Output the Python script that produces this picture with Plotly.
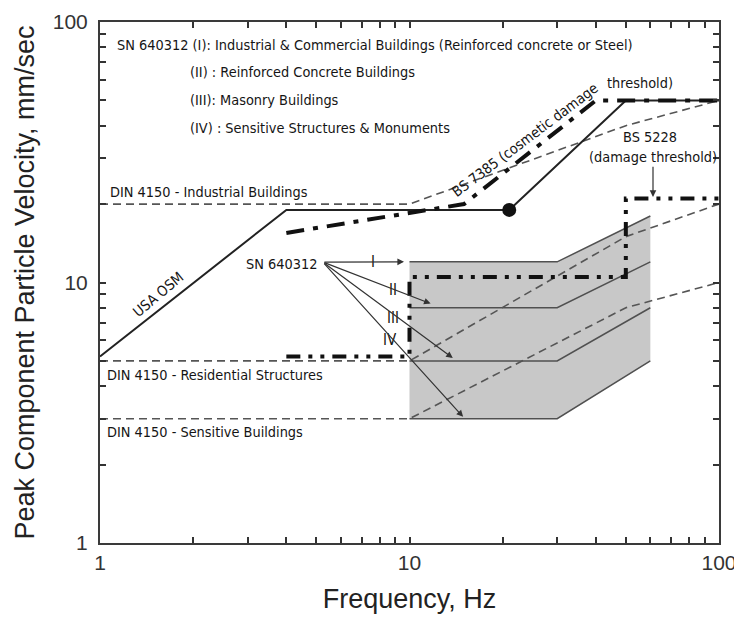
import math
import plotly.graph_objects as go

# ---------------- data ----------------
freq_din = [1, 10, 50, 100]
din_industrial = [20, 20, 40, 50]
din_residential = [5, 5, 15, 20]
din_sensitive = [3, 3, 8, 10]

osm_freq = [1, 4, 21, 50, 100]
osm_vel = [5.2, 19, 19, 50, 50]
osm_dot_freq = [21]
osm_dot_vel = [19]

bs7385_freq = [4, 15, 40, 100]
bs7385_vel = [15.5, 20, 50, 50]

bs5228_freq = [4, 10, 10, 50, 50, 100]
bs5228_vel = [5.2, 5.2, 10.5, 10.5, 21, 21]

sn_freq = [10, 30, 60]
sn_I = [12, 12, 18]
sn_II = [8, 8, 12]
sn_III = [5, 5, 8]
sn_IV = [3, 3, 5]

tick_values = [1, 2, 3, 4, 5, 6, 7, 8, 9, 10, 20, 30, 40, 50, 60, 70, 80, 90, 100]
tick_labels = ["1", "", "", "", "", "", "", "", "", "10",
               "", "", "", "", "", "", "", "", "100"]

NARROW = "Liberation Sans Narrow, Arial Narrow, DejaVu Sans Condensed, sans-serif"
SANS = "Liberation Sans, Arial, sans-serif"
L = math.log10

fig = go.Figure()

# shaded SN 640312 region
fig.add_trace(go.Scatter(
    x=sn_freq + sn_freq[::-1], y=sn_I + sn_IV[::-1],
    fill="toself", fillcolor="#c8c8c8", line=dict(width=0),
    mode="lines", hoverinfo="skip", showlegend=False))
for v in (sn_I, sn_II, sn_III, sn_IV):
    fig.add_trace(go.Scatter(x=sn_freq, y=v, mode="lines",
                             line=dict(color="#505050", width=1.5),
                             showlegend=False))

# DIN 4150 dashed
for v in (din_industrial, din_residential, din_sensitive):
    fig.add_trace(go.Scatter(x=freq_din, y=v, mode="lines",
                             line=dict(color="#555555", width=1.6, dash="8px,5px"),
                             showlegend=False))

# USA OSM
fig.add_trace(go.Scatter(x=osm_freq, y=osm_vel, mode="lines",
                         line=dict(color="#222222", width=2), showlegend=False))
fig.add_trace(go.Scatter(x=osm_dot_freq, y=osm_dot_vel, mode="markers",
                         marker=dict(color="#111111", size=14), showlegend=False))

# BS 7385
fig.add_trace(go.Scatter(x=bs7385_freq, y=bs7385_vel, mode="lines",
                         line=dict(color="#111111", width=4, dash="18px,9px,5px,9px"),
                         showlegend=False))
# BS 5228
fig.add_trace(go.Scatter(x=bs5228_freq, y=bs5228_vel, mode="lines",
                         line=dict(color="#111111", width=4,
                                   dash="14px,8px,4px,8px,4px,8px"),
                         showlegend=False))

ann = []


def txt(x, y, s, size=14.4, xanchor="center", angle=0, font=NARROW):
    ann.append(dict(x=L(x), y=L(y), xref="x", yref="y", text=s, showarrow=False,
                    xanchor=xanchor, yanchor="middle", textangle=angle,
                    font=dict(family=font, size=size, color="#151515")))


# header text block
txt(1.12, 81.6, "SN 640312 (I): Industrial &amp; Commercial Buildings (Reinforced concrete or Steel)", xanchor="left")
txt(1.93, 64.3, "(II) : Reinforced Concrete Buildings", xanchor="left")
txt(1.93, 50.2, "(III): Masonry Buildings", xanchor="left")
txt(1.93, 39.2, "(IV) : Sensitive Structures &amp; Monuments", xanchor="left")

txt(1.06, 22.3, "DIN 4150 - Industrial Buildings", xanchor="left")
txt(1.04, 4.42, "DIN 4150 - Residential Structures", xanchor="left")
txt(1.04, 2.67, "DIN 4150 - Sensitive Buildings", xanchor="left")

txt(1.55, 9.0, "USA OSM", angle=-40)
txt(23.6, 35.2, "BS 7385 (cosmetic damage", angle=-37)
txt(55.6, 58.3, "threshold)")
txt(59.8, 36.2, "BS 5228")
txt(61.0, 30.3, "(damage threshold)")
txt(3.85, 11.78, "SN 640312")

# labels on arrows
txt(7.62, 12.0, "I", size=15)
txt(8.84, 9.36, "II", size=15)
txt(8.84, 7.31, "III", size=15)
txt(8.65, 6.02, "IV", size=15)

# arrows
start = (5.25, 11.98)
for tip in [(9.6, 12.0), (11.7, 8.3), (13.8, 5.13), (14.9, 3.05)]:
    ann.append(dict(x=L(tip[0]), y=L(tip[1]), xref="x", yref="y",
                    ax=L(start[0]), ay=L(start[1]), axref="x", ayref="y",
                    text="", showarrow=True, arrowhead=2, arrowsize=1.1,
                    arrowwidth=1.2, arrowcolor="#333333"))
ann.append(dict(x=L(61.2), y=L(21.3), xref="x", yref="y",
                ax=L(61.2), ay=L(28.2), axref="x", ayref="y",
                text="", showarrow=True, arrowhead=2, arrowsize=1.1,
                arrowwidth=1.2, arrowcolor="#333333"))

axis_common = dict(
    type="log", range=[0, 2], automargin=False,
    showline=True, linecolor="#3a3a3a", linewidth=2, mirror="ticks",
    ticks="inside", ticklen=6, tickwidth=1.6, tickcolor="#333333",
    showgrid=False, zeroline=False,
    tickmode="array", tickvals=tick_values, ticktext=tick_labels,
    tickfont=dict(family=SANS, size=21, color="#333333"),
)

# the page body adds an 8px offset; margins compensate for it
fig.update_layout(
    width=742, height=619,
    margin=dict(l=92, r=31, t=14, b=84),
    paper_bgcolor="white", plot_bgcolor="white",
    showlegend=False,
    annotations=ann,
    xaxis=dict(axis_common, ticklabelstandoff=0,
               title=dict(text="Frequency, Hz", standoff=16,
                          font=dict(family=SANS, size=27, color="#222222"))),
    yaxis=dict(axis_common, ticklabelstandoff=6,
               title=dict(text="Peak Component Particle Velocity, mm/sec", standoff=10,
                          font=dict(family=SANS, size=27, color="#222222"))),
)

fig.write_html("out.html")
